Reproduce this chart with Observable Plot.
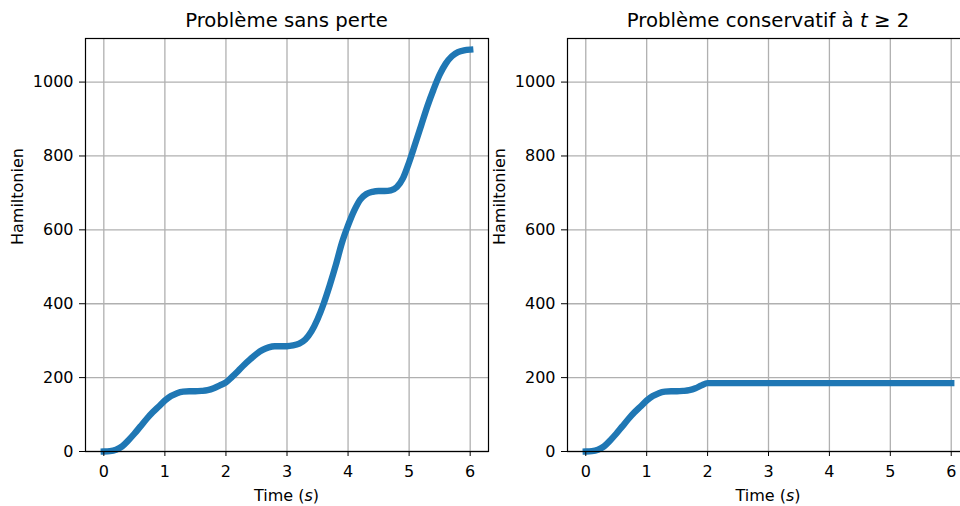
<!DOCTYPE html>
<html>
<head>
<meta charset="utf-8">
<script src="https://cdn.jsdelivr.net/npm/d3@7"></script>
<script src="https://cdn.jsdelivr.net/npm/@observablehq/plot@0.6"></script>
<style>
  html, body { margin: 0; padding: 0; background: #fff; }
  #fig { position: relative; width: 960px; height: 506px; overflow: hidden; background: #fff; }
  #fig svg { position: absolute; top: 0; }
</style>
</head>
<body>
<div id="fig"></div>
<script>
// Energy of the lossless system, sampled every 0.1 s
const timeLossless = [
  0.0, 0.1, 0.2, 0.3, 0.4, 0.5, 0.6, 0.7, 0.8, 0.9,
  1.0, 1.1, 1.2, 1.3, 1.4, 1.5, 1.6, 1.7, 1.8, 1.9,
  2.0, 2.1, 2.2, 2.3, 2.4, 2.5, 2.6, 2.7, 2.8, 2.9,
  3.0, 3.1, 3.2, 3.3, 3.4, 3.5, 3.6, 3.7, 3.8, 3.9,
  4.0, 4.1, 4.2, 4.3, 4.4, 4.5, 4.6, 4.7, 4.8, 4.9,
  5.0, 5.1, 5.2, 5.3, 5.4, 5.5, 5.6, 5.7, 5.8, 5.9,
  6.0
];
const hamiltonianLossless = [
  0, 1, 5, 14, 30, 48, 68, 88, 106, 122,
  138, 150, 158, 162, 163, 163, 164, 166, 171, 179,
  187, 202, 218, 235, 250, 264, 275, 282, 285, 285,
  285, 287, 292, 303, 325, 358, 400, 450, 505, 565,
  612, 652, 682, 697, 703, 705, 705, 707, 716, 740,
  783, 833, 884, 935, 980, 1020, 1050, 1070, 1081, 1086,
  1088
];

// Energy when forcing stops at t = 2 (conserved afterwards)
const timeConservative = [
  0.0, 0.1, 0.2, 0.3, 0.4, 0.5, 0.6, 0.7, 0.8, 0.9,
  1.0, 1.1, 1.2, 1.3, 1.4, 1.5, 1.6, 1.7, 1.8, 1.9,
  2.0, 6.0
];
const hamiltonianConservative = [
  0, 1, 5, 14, 30, 48, 68, 88, 106, 122,
  138, 150, 158, 162, 163, 163, 164, 166, 171, 179,
  185, 185
];

const xTicks = [0, 1, 2, 3, 4, 5, 6];
const yTicks = [0, 200, 400, 600, 800, 1000];
const xDomain = [-0.3, 6.3];
const yDomain = [0, 1118];

const yLabel = "Hamiltonien";
const xLabelParts = [{ s: "Time (" }, { s: "s", italic: true }, { s: ")" }];
const titleLossless = [{ s: "Problème sans perte" }];
const titleConservative = [{ s: "Problème conservatif à " }, { s: "t", italic: true }, { s: " ≥ 2" }];

const FONT = "DejaVu Sans";
const BLUE = "#1f77b4";
const GRID = "#b0b0b0";

function richText(svg, x, y, parts, size) {
  const t = svg.append("text")
    .attr("x", x).attr("y", y)
    .attr("text-anchor", "middle")
    .attr("font-family", FONT)
    .attr("font-size", size)
    .attr("fill", "black");
  for (const p of parts) {
    const span = t.append("tspan").text(p.s);
    if (p.italic) span.attr("font-style", "italic");
  }
}

function panel({ time, values, left, marginLeft, marginRight, title }) {
  const width = 500, height = 506, marginTop = 38, marginBottom = 55;
  const data = time.map((t, i) => ({ t, h: values[i] }));
  const chart = Plot.plot({
    width, height, marginLeft, marginRight, marginTop, marginBottom,
    style: { fontFamily: FONT, fontSize: "16px", color: "black", background: "transparent", overflow: "visible" },
    x: { domain: xDomain },
    y: { domain: yDomain },
    marks: [
      Plot.gridX(xTicks, { stroke: GRID, strokeOpacity: 1, strokeWidth: 1.3 }),
      Plot.gridY(yTicks, { stroke: GRID, strokeOpacity: 1, strokeWidth: 1.3 }),
      Plot.line(data, {
        x: "t", y: "h", stroke: BLUE, strokeWidth: 6.4,
        curve: "monotone-x", strokeLinecap: "square", strokeLinejoin: "round"
      }),
      Plot.frame({ stroke: "black", strokeWidth: 1.2 }),
      Plot.axisX(xTicks, { tickSize: 5, tickPadding: 9.5, label: null, fontSize: 16 }),
      Plot.axisY(yTicks, { tickSize: 6, tickPadding: 6, tickFormat: d => String(d), label: null, fontSize: 16 }),
      Plot.text([yLabel], { text: d => d, frameAnchor: "left", dx: -68, rotate: -90, fontSize: 16 })
    ]
  });
  chart.style.left = left + "px";
  const svg = d3.select(chart);
  const cx = (marginLeft + width - marginRight) / 2;
  richText(svg, cx, 27, title, 19.7);
  richText(svg, cx, 501, xLabelParts, 16);
  document.getElementById("fig").appendChild(chart);
}

panel({ time: timeLossless, values: hamiltonianLossless, left: 0, marginLeft: 85, marginRight: 12, title: titleLossless });
panel({ time: timeConservative, values: hamiltonianConservative, left: 480, marginLeft: 87, marginRight: 11, title: titleConservative });
</script>
</body>
</html>
